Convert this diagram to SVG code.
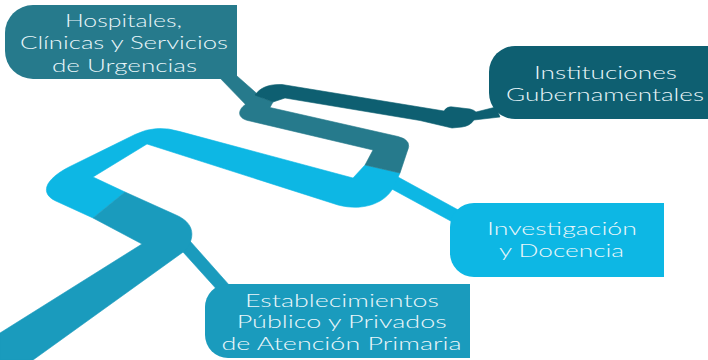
<svg xmlns="http://www.w3.org/2000/svg" width="708" height="360" viewBox="0 0 708 360">
<style>
.lb{fill:#0DB7E4;stroke:#0DB7E4}
.mb{fill:#1A9BBD;stroke:#1A9BBD}
.tl{fill:#267A8C;stroke:#267A8C}
.dt{fill:#0E5F71;stroke:#0E5F71}
.seg{stroke-width:0.6;stroke-linejoin:round}
.box{stroke:none}
.lbl{font-family:Lato,"Open Sans","DejaVu Sans",sans-serif;font-weight:300;font-size:18px;fill:#EAF6FA;text-anchor:middle}
</style>
<rect width="708" height="360" fill="#ffffff"/>
<g id="connectors">
  <polygon id="leader-hospitales" class="tl seg" points="218,76 237,76 263,99 248,107"/>
  <polygon id="leader-establecimientos" class="mb seg" points="190,241 230,286 220,293 183,252"/>
  <polygon id="leader-investigacion" class="lb seg" points="398,177 462,212 458,225 390,188"/>
  <path id="band-light" class="lb seg" d="M93,218 L125,192 L93,177 L147,144 L338,205 C365,212 388,202 395,184 L400,173 L365,165 L353,178 L180,131.6 Q156,124 135,134.5 L70,166.5 C45,179 38,194 58,202 Z"/>
  <path id="band-medium" class="mb seg" d="M0,333 L142,244 L93,218 L125,192 L176,215 C192,222 197,234 186,250 L33,360 L0,360 Z"/>
  <path id="band-teal" class="tl seg" d="M255,95 L273,102 L270,107.5 L398,136.5 Q413,140 407,152 L400,173 L365,165 L373,150 L250,121 C238,119 236,111 246,104 Z"/>
  <path id="band-dark" class="dt seg" d="M255,95 C260,88 268,84 282,84.5 L444,111 Q447,106 453,107 L470,109 Q474,110 476,112 L496,107 L500,117 L474,120 Q470,126 462,127 L452,128 L420,120.5 L285,98 L273,102 Z"/>
</g>
<g id="node-hospitales">
  <path class="tl box" d="M33,5 H237 V79 H33 A28,28 0 0 1 5,51 V33 A28,28 0 0 1 33,5 Z"/>
  <text class="lbl" x="123.5" y="27" textLength="117" lengthAdjust="spacingAndGlyphs">Hospitales,</text>
  <text class="lbl" x="124" y="49" textLength="208" lengthAdjust="spacingAndGlyphs">Clínicas y Servicios</text>
  <text class="lbl" x="124.5" y="71.5" textLength="145" lengthAdjust="spacingAndGlyphs">de Urgencias</text>
</g>
<g id="node-instituciones">
  <path class="dt box" d="M515,46 H708 V119 H515 A26,26 0 0 1 489,93 V72 A26,26 0 0 1 515,46 Z"/>
  <text class="lbl" x="605.5" y="79" textLength="143" lengthAdjust="spacingAndGlyphs">Instituciones</text>
  <text class="lbl" x="605" y="100.8" textLength="198" lengthAdjust="spacingAndGlyphs">Gubernamentales</text>
</g>
<g id="node-investigacion">
  <path class="lb box" d="M474,203 H664 V277 H474 A24,24 0 0 1 450,253 V227 A24,24 0 0 1 474,203 Z"/>
  <text class="lbl" x="562" y="235" textLength="150" lengthAdjust="spacingAndGlyphs">Investigación</text>
  <text class="lbl" x="561.5" y="257.3" textLength="125" lengthAdjust="spacingAndGlyphs">y Docencia</text>
</g>
<g id="node-establecimientos">
  <path class="mb box" d="M228,284 H470 V358 H228 A23,23 0 0 1 205,335 V307 A23,23 0 0 1 228,284 Z"/>
  <text class="lbl" x="342" y="306.5" textLength="194" lengthAdjust="spacingAndGlyphs">Establecimientos</text>
  <text class="lbl" x="341.7" y="328.3" textLength="210" lengthAdjust="spacingAndGlyphs">Público y Privados</text>
  <text class="lbl" x="341.5" y="350.1" textLength="240" lengthAdjust="spacingAndGlyphs">de Atención Primaria</text>
</g>
</svg>
